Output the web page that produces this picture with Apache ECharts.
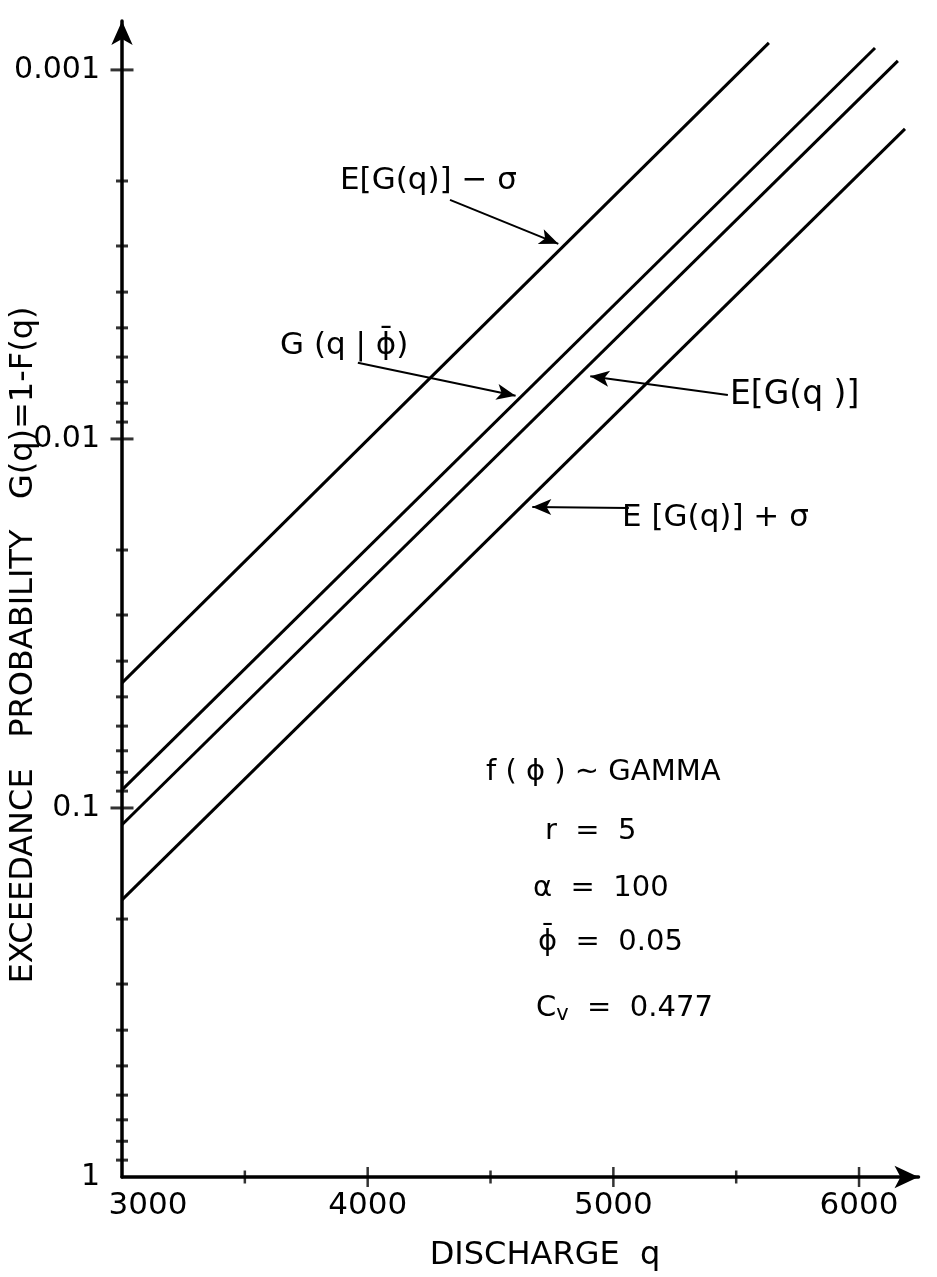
<!DOCTYPE html>
<html><head><meta charset="utf-8">
<script src="https://cdn.jsdelivr.net/npm/echarts@6/dist/echarts.min.js"></script>
<style>html,body{margin:0;padding:0;background:#fff}#c{width:937px;height:1277px}</style>
</head><body><div id="c"></div>
<script>
// ---- data ----
const xRange = [3000, 6242];
const yRange = [0.000737, 1];
const xLabels = [3000, 4000, 5000, 6000];
const xMajorTicks = [4000, 5000, 6000];
const xMinorTicks = [3500, 4500, 5500];
const yLabels = ['0.001', '0.01', '0.1', '1'];
const yMajorTicks = [0.001, 0.01, 0.1];
const yMinorTicks = [0.002, 0.003, 0.004, 0.005, 0.006, 0.007, 0.008, 0.009,
                     0.02, 0.03, 0.04, 0.05, 0.06, 0.07, 0.08, 0.09,
                     0.2, 0.3, 0.4, 0.5, 0.6, 0.7, 0.8, 0.9];

const seriesNames = ['E[G(q)] − σ', 'G(q|ϕ̄)', 'E[G(q)]', 'E[G(q)] + σ'];
const lineMinusSigma = [[3000, 0.0458], [5633, 0.000845]];
const lineGivenMean  = [[3000, 0.0893], [6065, 0.000872]];
const lineExpected   = [[3000, 0.111],  [6158, 0.000945]];
const linePlusSigma  = [[3000, 0.1774], [6187, 0.001445]];

const arrowMinusSigma = [[4335, 0.00225], [4776, 0.00296]];
const arrowGivenMean  = [[3960, 0.00622], [4602, 0.00764]];
const arrowExpected   = [[5466, 0.0076],  [4906, 0.00676]];
const arrowPlusSigma  = [[5063, 0.01538], [4670, 0.01528]];

const paramLines = ['f ( ϕ ) ∼ GAMMA', 'r  =  5', 'α  =  100', 'ϕ̄  =  0.05', 'C{s|v}  =  0.477'];
const xTitle = 'DISCHARGE  q';
const yTitle = 'EXCEEDANCE   PROBABILITY   G(q)=1-F(q)';

// ---- chart ----
const FONT = 'DejaVu Sans';
const chart = echarts.init(document.getElementById('c'));

function lineSeries(name, data, arrow) {
  return {
    name: name, type: 'line', data: data, showSymbol: false, symbol: 'none',
    lineStyle: { color: '#000', width: 3 }, silent: true, z: 3,
    markLine: {
      silent: true, symbol: ['none', 'arrow'], symbolSize: [12, 19],
      lineStyle: { color: '#000', width: 2, type: 'solid' },
      label: { show: false },
      data: [[{ coord: arrow[0] }, { coord: arrow[1] }]]
    }
  };
}
function tickSeries(data, size) {
  return { type: 'scatter', data: data, symbol: 'rect', symbolSize: size,
           itemStyle: { color: '#000' }, clip: false, silent: true, z: 5 };
}
const txt = (text, x, y, extra) => Object.assign({
  type: 'text', x: x, y: y, silent: true,
  style: Object.assign({ text: text, font: '29px "' + FONT + '"', fill: '#000',
                         align: 'left', verticalAlign: 'middle' }, extra || {})
});

chart.setOption({
  animation: false,
  backgroundColor: '#fff',
  grid: { left: 122, right: 18.5, top: 21, bottom: 100, containLabel: false, outerBoundsMode: 'none' },
  xAxis: {
    type: 'value', min: xRange[0], max: xRange[1], interval: 500,
    axisLine: { lineStyle: { color: '#000', width: 3.5 }, symbol: ['none', 'arrow'], symbolSize: [17, 24] },
    axisTick: { show: false }, splitLine: { show: false },
    axisLabel: {
      margin: 13, color: '#000', fontFamily: FONT, fontSize: 31,
      formatter: v => xLabels.indexOf(v) < 0 ? '' : (v === xLabels[0] ? '{first|' + v + '}' : String(v)),
      rich: { first: { padding: [0, 0, 0, 52] } }
    }
  },
  yAxis: {
    type: 'log', inverse: true, min: yRange[0], max: yRange[1],
    axisLine: { lineStyle: { color: '#000', width: 3.5 }, symbol: ['none', 'arrow'], symbolSize: [16, 24] },
    axisTick: { show: false }, splitLine: { show: false },
    axisLabel: {
      margin: 22, color: '#000', fontFamily: FONT, fontSize: 30,
      formatter: v => { for (const l of yLabels) { if (Math.abs(Math.log10(v) - Math.log10(+l)) < 1e-6) return l; } return ''; }
    }
  },
  series: [
    lineSeries(seriesNames[0], lineMinusSigma, arrowMinusSigma),
    lineSeries(seriesNames[1], lineGivenMean, arrowGivenMean),
    lineSeries(seriesNames[2], lineExpected, arrowExpected),
    lineSeries(seriesNames[3], linePlusSigma, arrowPlusSigma),
    tickSeries(yMajorTicks.map(v => [xRange[0], v]), [23, 3]),
    tickSeries(yMinorTicks.map(v => [xRange[0], v]), [12, 3]),
    tickSeries(xMajorTicks.map(v => [v, yRange[1]]), [2.5, 20]),
    tickSeries(xMinorTicks.map(v => [v, yRange[1]]), [2.5, 13])
  ],
  graphic: [
    txt(yTitle, 24, 645, { align: 'center', font: '32px "' + FONT + '"' }),
    txt(xTitle, 545, 1256, { align: 'center', font: '32px "' + FONT + '"' }),
    txt(seriesNames[0], 340, 181, { font: '31px "' + FONT + '"' }),
    txt('G (q | ϕ̄)', 280, 346, { font: '31px "' + FONT + '"' }),
    txt('E[G(q )]', 730, 395, { font: '33px "' + FONT + '"' }),
    txt('E [G(q)] + σ', 622, 518, { font: '31px "' + FONT + '"' }),
    txt(paramLines[0], 486, 772),
    txt(paramLines[1], 545, 831),
    txt(paramLines[2], 533, 888),
    txt(paramLines[3], 538, 942),
    { type: 'text', x: 536, y: 1008, silent: true,
      style: { text: paramLines[4], font: '29px "' + FONT + '"', fill: '#000', align: 'left', verticalAlign: 'middle',
               rich: { s: { fontSize: 21, fontFamily: FONT, padding: [14, 0, 0, 0] } } } }
  ]
});
// rotate y title
const opt = chart.getOption();
opt.graphic[0].elements[0].rotation = Math.PI / 2;
chart.setOption({ graphic: opt.graphic });
</script></body></html>
